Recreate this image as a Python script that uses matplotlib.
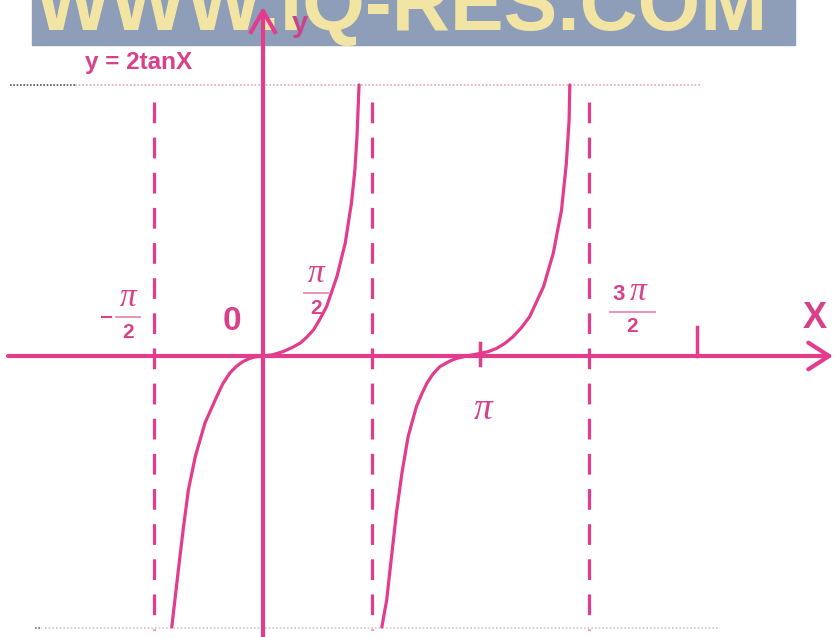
import numpy as np
import matplotlib
matplotlib.use("Agg")
import matplotlib.pyplot as plt
from matplotlib.patches import Rectangle

# curve (x in radians, y in drawing units)
b1_x = [-1.32, -1.23, -1.15, -1.08, -0.98, -0.84, -0.67, -0.58, -0.48, -0.38, -0.29, -0.20, -0.12, 0.0,
        0.14, 0.29, 0.42, 0.54, 0.63, 0.73, 0.82, 0.92, 1.07, 1.19, 1.28, 1.33, 1.36, 1.39]
b1_y = [-13.55, -10.85, -8.53, -6.7, -5.03, -3.35, -2.03, -1.38, -0.85, -0.5, -0.28, -0.13, -0.05, 0.0,
        0.06, 0.22, 0.42, 0.65, 0.93, 1.3, 1.82, 2.47, 3.97, 5.65, 7.65, 9.3, 10.97, 13.55]
b2_x = [1.72, 1.79, 1.86, 1.93, 2.01, 2.10, 2.22, 2.30, 2.37, 2.46, 2.56, 2.70, 2.80, 2.95,
        3.14, 3.26, 3.38, 3.50, 3.62, 3.74, 3.86, 4.06, 4.20, 4.32, 4.39, 4.43, 4.44]
b2_y = [-13.55, -12.2, -10.03, -7.87, -5.87, -4.03, -2.53, -1.88, -1.37, -0.9, -0.53, -0.26, -0.12, 0.0,
        0.13, 0.22, 0.38, 0.63, 0.97, 1.42, 1.97, 3.47, 5.13, 7.3, 9.63, 11.8, 13.55]

asymptotes = [-np.pi / 2, np.pi / 2, 3 * np.pi / 2]
ticks_x = [np.pi, 2 * np.pi]
y_top, y_bot = 13.55, -13.6

C = '#e33c8c'
CT = '#d9408a'

W, H = 836, 637
X0, Y0, SX, SY = 263, 356, 69.1, 20.0


def P(xp, yp):
    # pixel position -> data position
    return (xp - X0) / SX, (Y0 - yp) / SY


fig = plt.figure(figsize=(W / 100, H / 100), dpi=100)
ax = fig.add_axes([0, 0, 1, 1])
ax.set_xlim(-X0 / SX, (W - X0) / SX)
ax.set_ylim(-(H - Y0) / SY, Y0 / SY)
ax.axis('off')

# dotted guide lines
ax.plot([P(75, 0)[0], P(700, 0)[0]], [y_top, y_top], ls=(0, (1, 1.2)), color='#e2a9c2', lw=1.2)
ax.plot([P(10, 0)[0], P(75, 0)[0]], [y_top, y_top], ls=(0, (1, 1)), color='#555555', lw=1.2)
ax.plot([P(45, 0)[0], P(720, 0)[0]], [y_bot, y_bot], ls=(0, (1, 1.2)), color='#d8c4cc', lw=1.2)
ax.plot([P(35, 0)[0], P(42, 0)[0]], [y_bot, y_bot], ls=(0, (1, 1)), color='#777777', lw=1.2)

# asymptotes
for a in asymptotes:
    ax.plot([a, a], [P(0, 102)[1], P(0, 630)[1]], color=C, lw=2.3, dashes=(6.5, 4.5))

# x axis with arrow, y axis line
arr = dict(arrowstyle='->,head_length=0.5,head_width=0.32', lw=3, color=C,
           mutation_scale=30, shrinkA=0, shrinkB=0)
ax.annotate('', xy=P(833, Y0), xytext=P(8, Y0), arrowprops=arr)
ax.plot([0, 0], [P(0, 640)[1], P(0, 40)[1]], color=C, lw=3)

# tick marks
ax.plot([ticks_x[0]] * 2, [P(0, 343)[1], P(0, 365)[1]], color=C, lw=2.5)
ax.plot([ticks_x[1]] * 2, [P(0, 327)[1], 0], color=C, lw=2.5)

# curve
ax.plot(b1_x, b1_y, color=C, lw=2.3, solid_capstyle='round', solid_joinstyle='round')
ax.plot(b2_x, b2_y, color=C, lw=2.3, solid_capstyle='round', solid_joinstyle='round')

# labels
bold = dict(family='Liberation Sans', weight='bold', color=CT)
pi_f = dict(family='Liberation Serif', style='italic', color=CT)

ax.text(*P(139, 63), 'y = 2tanX', fontsize=17.5, ha='center', va='center', **bold)
ax.text(*P(232, 322), '0', fontsize=24, ha='center', va='center', **bold)
ax.text(*P(815, 318), 'X', fontsize=26, ha='center', va='center', **bold)


def frac(xc, ytop, w, minus=False):
    ax.text(*P(xc, ytop), 'π', fontsize=24, ha='center', va='center', **pi_f)
    xa, yb = P(xc - w / 2, ytop + 19)
    xb, _ = P(xc + w / 2, 0)
    ax.plot([xa, xb], [yb, yb], color='#e88ab5', lw=1.3)
    ax.text(*P(xc, ytop + 34), '2', fontsize=15, ha='center', va='center', **bold)
    if minus:
        xm0, ym = P(xc - w / 2 - 14, ytop + 19)
        xm1, _ = P(xc - w / 2 - 5, 0)
        ax.plot([xm0, xm1], [ym, ym], color=CT, lw=1.5)


frac(128, 298, 24, minus=True)
frac(316, 274, 24)
ax.text(*P(619, 294), '3', fontsize=16, ha='center', va='center', **bold)
ax.text(*P(638, 292), 'π', fontsize=24, ha='center', va='center', **pi_f)
ax.plot([P(610, 0)[0], P(655, 0)[0]], [P(0, 312)[1]] * 2, color='#e88ab5', lw=1.3)
ax.text(*P(632, 327), '2', fontsize=15, ha='center', va='center', **bold)
ax.text(*P(483, 410), 'π', fontsize=27, ha='center', va='center', **pi_f)

# watermark band
fig.patches.append(Rectangle((32 / W, 1 - 45 / H), (795 - 32) / W, 45 / H,
                             transform=fig.transFigure, color='#8e9db8', zorder=5))
fig.text(35 / W, 1 - 30 / H, 'WWW.IQ-RES.COM', fontsize=58, family='Liberation Sans',
         weight='bold', color='#f2e5a4', ha='left', va='baseline', zorder=6)
fig.text(300 / W, 1 - 24 / H, 'y', fontsize=21, family='Liberation Sans', weight='bold',
         color='#c8448a', ha='center', va='center', zorder=7)
# y-axis arrow over the band
fig.add_artist(plt.Line2D([X0 / W, X0 / W], [1 - 48 / H, 1 - 12 / H], color=C, lw=3, zorder=7))
fig.add_artist(plt.Line2D([(X0 - 12) / W, X0 / W, (X0 + 12) / W],
                          [1 - 32 / H, 1 - 11 / H, 1 - 32 / H], color=C, lw=3, zorder=7))

fig.savefig('out.png', dpi=100)
